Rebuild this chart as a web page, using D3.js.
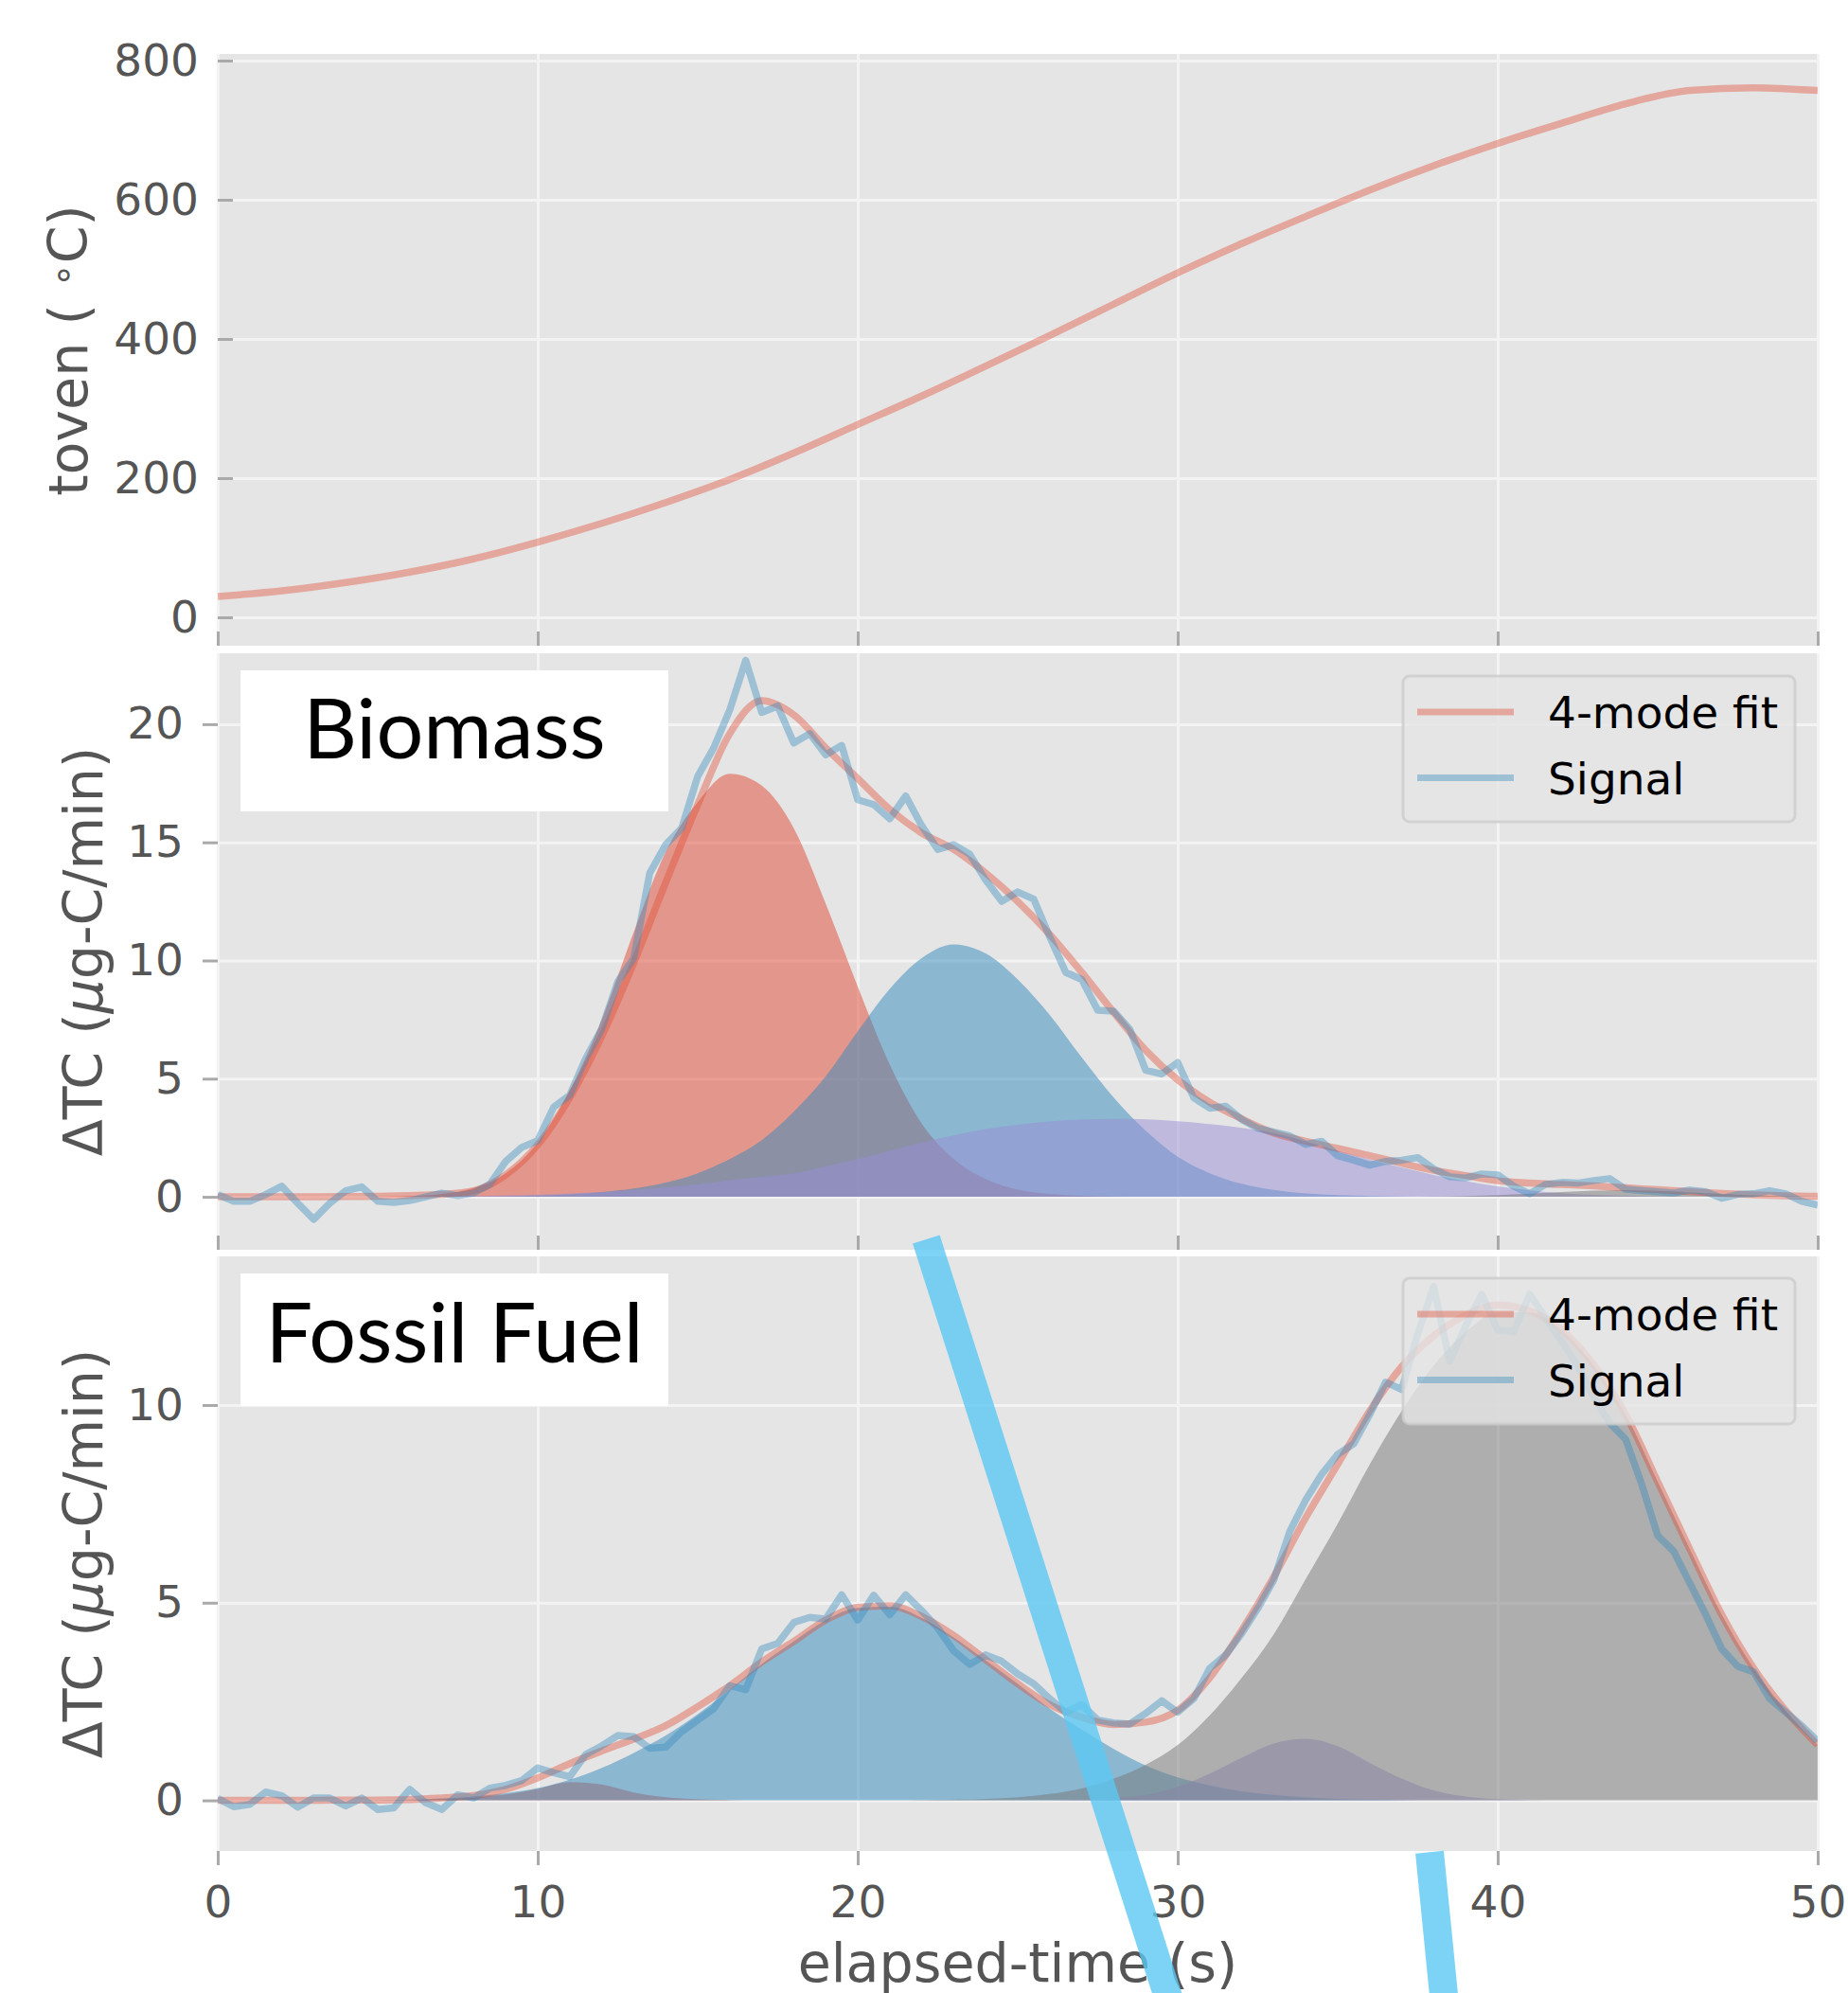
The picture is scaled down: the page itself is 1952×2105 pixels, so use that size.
<!DOCTYPE html>
<html>
<head>
  <meta charset="utf-8">
  <script src="https://d3js.org/d3.v7.min.js"></script>
  <style>
    body { margin: 0; background: #fff; }
    svg { display: block; }
  </style>
</head>
<body>
<script>
  'use strict';

  // ---------- data ----------
  var xTicks = [0, 10, 20, 30, 40, 50];
  var tovenTicks = [0, 200, 400, 600, 800];
  var bioTicks = [0, 5, 10, 15, 20];
  var fossilTicks = [0, 5, 10];
  var legendLabels = ['4-mode fit', 'Signal'];
  var modeColors = ['#E24A33', '#348ABD', '#988ED5', '#777777'];

  // oven temperature (deg C)
  var tovenTime = [0, 2, 4, 6, 8, 10, 12, 14, 16, 18, 20, 22, 24, 26, 28, 30, 32, 34, 36, 38, 40, 42, 44, 46, 48, 50];
  var toven = [30, 38, 50, 65, 84, 108, 135, 165, 198, 236, 277, 318, 361, 405, 450, 495, 537, 576, 614, 649, 681, 710, 738, 757, 761, 757];

  // fitted curves are sampled every second, raw signal every half second
  var modeTime = d3.range(0, 51, 1);
  var sigTime = d3.range(0, 50.5, 0.5);

  // Biomass
  var bioSignal = [0.1, -0.19, -0.19, 0.1, 0.45, -0.27, -0.95, -0.27, 0.26, 0.42,
    -0.19, -0.24, -0.16, 0.0, 0.16, 0.05, 0.16, 0.53, 1.5, 2.09,
    2.38, 3.8, 4.3, 5.85, 7.1, 9.1, 10.1, 13.7, 14.9, 15.6,
    17.8, 19.0, 20.6, 22.7, 20.5, 20.77, 19.2, 19.6, 18.7, 19.1,
    16.8, 16.6, 16.0, 16.96, 15.7, 14.7, 14.9, 14.5, 13.4, 12.5,
    12.9, 12.6, 11.0, 9.5, 9.2, 7.9, 7.86, 7.1, 5.36, 5.2,
    5.68, 4.2, 3.75, 3.83, 3.27, 2.9, 2.74, 2.58, 2.22, 2.35,
    1.74, 1.55, 1.34, 1.5, 1.55, 1.66, 1.18, 0.85, 0.8, 0.97,
    0.93, 0.45, 0.13, 0.53, 0.61, 0.58, 0.69, 0.77, 0.32, 0.26,
    0.21, 0.16, 0.29, 0.21, -0.06, 0.1, 0.13, 0.26, 0.13, -0.19,
    -0.35];
  var bioFit = [0, 0, 0, 0, 0.01, 0.02, 0.05, 0.1, 0.26, 0.93,
    2.2, 4.2, 6.8, 9.9, 13.3, 16.6, 19.6, 21.0, 20.4, 19.0,
    17.7, 16.4, 15.4, 14.7, 13.7, 12.5, 11.1, 9.5, 7.8, 6.2,
    4.95, 4.0, 3.3, 2.7, 2.35, 2.05, 1.74, 1.42, 1.12, 0.9,
    0.68, 0.58, 0.52, 0.46, 0.38, 0.3, 0.22, 0.14, 0.08, 0.04, 0.02];
  var bioMode1 = [0, 0, 0, 0, 0, 0.01, 0.03, 0.12, 0.37, 1.0,
    2.3, 4.5, 7.5, 11.2, 14.6, 16.7, 17.9, 17.4, 15.6, 12.4,
    8.9, 5.6, 3.1, 1.6, 0.75, 0.3, 0.12, 0.04, 0.01, 0,
    0, 0, 0, 0, 0, 0, 0, 0, 0, 0,
    0, 0, 0, 0, 0, 0, 0, 0, 0, 0, 0];
  var bioMode2 = [0, 0, 0, 0, 0, 0, 0, 0, 0, 0.02,
    0.05, 0.1, 0.2, 0.35, 0.6, 1.0, 1.6, 2.4, 3.6, 5.1,
    7.0, 8.8, 10.1, 10.68, 10.3, 9.2, 7.7, 5.9, 4.2, 2.8,
    1.7, 1.0, 0.55, 0.29, 0.14, 0.07, 0.03, 0.01, 0, 0,
    0, 0, 0, 0, 0, 0, 0, 0, 0, 0, 0];
  var bioMode3 = [0, 0, 0, 0, 0, 0, 0.01, 0.02, 0.04, 0.06,
    0.09, 0.14, 0.2, 0.28, 0.4, 0.53, 0.7, 0.85, 1.0, 1.3,
    1.6, 1.95, 2.3, 2.6, 2.87, 3.05, 3.19, 3.27, 3.3, 3.28,
    3.2, 3.08, 2.92, 2.7, 2.35, 1.95, 1.58, 1.25, 0.93, 0.66,
    0.44, 0.27, 0.15, 0.08, 0.04, 0.02, 0.01, 0, 0, 0, 0];
  var bioMode4 = [0, 0, 0, 0, 0, 0, 0, 0, 0, 0,
    0, 0, 0, 0, 0, 0, 0, 0, 0, 0,
    0, 0, 0, 0, 0, 0, 0, 0, 0, 0,
    0, 0, 0, 0, 0, 0, 0, 0, 0.01, 0.03,
    0.07, 0.13, 0.2, 0.26, 0.28, 0.25, 0.19, 0.12, 0.06, 0.03, 0.01];

  // Fossil Fuel
  var ffSignal = [0.05, -0.16, -0.1, 0.21, 0.12, -0.17, 0.06, 0.06, -0.14, 0.06,
    -0.23, -0.19, 0.28, -0.06, -0.23, 0.14, 0.06, 0.31, 0.38, 0.5,
    0.82, 0.7, 0.6, 1.16, 1.38, 1.64, 1.61, 1.32, 1.35, 1.74,
    2.03, 2.32, 2.9, 2.8, 3.83, 3.97, 4.5, 4.63, 4.59, 5.2,
    4.56, 5.19, 4.7, 5.2, 4.8, 4.36, 3.78, 3.44, 3.68, 3.52,
    3.2, 2.95, 2.57, 2.23, 2.42, 2.03, 1.96, 1.93, 2.2, 2.52,
    2.23, 2.57, 3.34, 3.68, 4.22, 4.85, 5.57, 6.8, 7.6, 8.25,
    8.75, 9.02, 9.76, 10.58, 10.39, 11.8, 13.0, 11.1, 12.0, 12.8,
    11.9, 11.85, 12.8, 12.2, 11.6, 11.0, 10.2, 9.55, 9.13, 8.0,
    6.7, 6.3, 5.5, 4.7, 3.83, 3.39, 3.25, 2.57, 2.23, 1.89,
    1.5];
  var ffFit = [0, 0, 0, 0, 0.01, 0.01, 0.02, 0.06, 0.12, 0.28,
    0.57, 0.93, 1.25, 1.55, 1.89, 2.37, 2.9, 3.5, 4.02, 4.56,
    4.88, 4.92, 4.65, 4.17, 3.56, 2.95, 2.42, 2.1, 1.92, 1.98,
    2.28, 3.1, 4.3, 5.65, 7.15, 8.5, 9.85, 10.97, 11.75, 12.28,
    12.53, 12.38, 11.9, 11.02, 9.76, 8.06, 6.36, 4.7, 3.34, 2.27, 1.4];
  var ffMode1 = [0, 0, 0, 0, 0, 0, 0.01, 0.03, 0.07, 0.15,
    0.29, 0.46, 0.4, 0.2, 0.08, 0.03, 0.01, 0, 0, 0,
    0, 0, 0, 0, 0, 0, 0, 0, 0, 0,
    0, 0, 0, 0, 0, 0, 0, 0, 0, 0,
    0, 0, 0, 0, 0, 0, 0, 0, 0, 0, 0];
  var ffMode2 = [0, 0, 0, 0, 0, 0.01, 0.02, 0.05, 0.1, 0.18,
    0.31, 0.52, 0.82, 1.2, 1.64, 2.18, 2.8, 3.45, 4.02, 4.56,
    4.87, 4.9, 4.62, 4.12, 3.54, 2.95, 2.32, 1.79, 1.3, 0.88,
    0.58, 0.38, 0.23, 0.14, 0.08, 0.04, 0.02, 0.01, 0, 0,
    0, 0, 0, 0, 0, 0, 0, 0, 0, 0, 0];
  var ffMode3 = [0, 0, 0, 0, 0, 0, 0, 0, 0, 0,
    0, 0, 0, 0, 0, 0, 0, 0, 0, 0,
    0, 0, 0, 0, 0, 0, 0, 0.02, 0.05, 0.14,
    0.34, 0.68, 1.08, 1.44, 1.56, 1.37, 0.95, 0.55, 0.25, 0.1,
    0.03, 0.01, 0, 0, 0, 0, 0, 0, 0, 0, 0];
  var ffMode4 = [0, 0, 0, 0, 0, 0, 0, 0, 0, 0,
    0, 0, 0, 0, 0, 0, 0, 0, 0, 0,
    0, 0, 0.01, 0.02, 0.04, 0.08, 0.16, 0.3, 0.55, 0.9,
    1.4, 2.15, 3.1, 4.2, 5.6, 7.0, 8.5, 9.85, 11.0, 11.85,
    12.35, 12.35, 11.9, 11.0, 9.76, 8.06, 6.36, 4.7, 3.34, 2.27, 1.4];

  // hand-drawn callout strokes, in the bottom panel's data units
  var callouts = [
    {t1: 22.14, v1: 14.19, t2: 29.83, v2: -5.3},
    {t1: 37.87, v1: -1.31, t2: 38.36, v2: -5.3}
  ];

  // ---------- layout ----------
  var W = 1952, H = 2105;
  var plotLeft = 230, plotRight = 1920;
  var tickFont = 47, labelFont = 57;

  var svg = d3.select('body').append('svg')
    .attr('width', W)
    .attr('height', H);

  var x = d3.scaleLinear().domain([0, 50]).range([plotLeft, plotRight]);

  function makePanel(id, top, bottom, domain, yTicks, yTickIn, xTickOut) {
    var y = d3.scaleLinear().domain(domain).range([bottom, top]);
    var g = svg.append('g').attr('class', 'panel-' + id);

    g.append('rect')
      .attr('x', plotLeft).attr('y', top)
      .attr('width', plotRight - plotLeft).attr('height', bottom - top)
      .attr('fill', '#e5e5e5');

    // white grid
    var gx = g.append('g')
      .attr('transform', 'translate(0,' + bottom + ')')
      .call(d3.axisBottom(x).tickValues(xTicks).tickSize(-(bottom - top)).tickFormat(''));
    var gy = g.append('g')
      .attr('transform', 'translate(' + plotLeft + ',0)')
      .call(d3.axisLeft(y).tickValues(yTicks).tickSize(-(plotRight - plotLeft)).tickFormat(''));
    [gx, gy].forEach(function (a) {
      a.select('.domain').remove();
      a.selectAll('line').attr('stroke', '#f3f3f3').attr('stroke-width', 3);
    });

    svg.append('clipPath').attr('id', 'clip-' + id)
      .append('rect')
      .attr('x', plotLeft).attr('y', top)
      .attr('width', plotRight - plotLeft).attr('height', bottom - top);

    var data = g.append('g').attr('clip-path', 'url(#clip-' + id + ')');

    return {y: y, g: g, data: data, top: top, bottom: bottom, yTicks: yTicks, yTickIn: yTickIn, xTickOut: xTickOut};
  }

  function drawAxes(p, showXLabels) {
    var ya = d3.axisLeft(p.y).tickValues(p.yTicks)
      .tickSizeInner(p.yTickIn ? -16 : 16).tickSizeOuter(0).tickPadding(20);
    var gy = p.g.append('g')
      .attr('transform', 'translate(' + plotLeft + ',0)')
      .call(ya);
    var xa = d3.axisBottom(x).tickValues(xTicks)
      .tickSizeInner(p.xTickOut ? 15 : -15).tickSizeOuter(0).tickPadding(22);
    if (!showXLabels) xa.tickFormat('');
    var gx = p.g.append('g')
      .attr('transform', 'translate(0,' + p.bottom + ')')
      .call(xa);
    [gx, gy].forEach(function (a) {
      a.select('.domain').remove();
      a.attr('font-size', tickFont).attr('font-family', "'DejaVu Sans', sans-serif");
      a.selectAll('line').attr('stroke', '#aaaaaa').attr('stroke-width', 3);
      a.selectAll('text').attr('fill', '#555555');
    });
  }

  function drawModes(p, modes) {
    modes.forEach(function (vals, i) {
      var area = d3.area()
        .x(function (d, k) { return x(modeTime[k]); })
        .y0(p.y(0))
        .y1(function (d) { return p.y(d); })
        .curve(d3.curveMonotoneX);
      p.data.append('path')
        .datum(vals)
        .attr('d', area)
        .attr('fill', modeColors[i])
        .attr('fill-opacity', 0.5);
    });
  }

  function drawLine(p, times, vals, color, curve) {
    var line = d3.line()
      .x(function (d, k) { return x(times[k]); })
      .y(function (d) { return p.y(d); })
      .curve(curve || d3.curveLinear);
    p.data.append('path')
      .datum(vals)
      .attr('d', line)
      .attr('fill', 'none')
      .attr('stroke', color)
      .attr('stroke-opacity', 0.4)
      .attr('stroke-width', 7.5)
      .attr('stroke-linejoin', 'round');
  }

  function drawLegend(p, top) {
    var lg = p.g.append('g');
    lg.append('rect')
      .attr('x', 1482).attr('y', top)
      .attr('width', 414).attr('height', 154)
      .attr('rx', 7)
      .attr('fill', '#e5e5e5').attr('fill-opacity', 0.8)
      .attr('stroke', '#cccccc').attr('stroke-opacity', 0.8).attr('stroke-width', 3);
    var colors = ['#E24A33', '#348ABD'];
    legendLabels.forEach(function (lab, i) {
      var ly = top + 38 + i * 69.5;
      lg.append('line')
        .attr('x1', 1497).attr('x2', 1599)
        .attr('y1', ly).attr('y2', ly)
        .attr('stroke', colors[i]).attr('stroke-opacity', 0.4).attr('stroke-width', 7);
      lg.append('text')
        .attr('x', 1635).attr('y', ly + 17)
        .attr('font-family', "'DejaVu Sans', sans-serif")
        .attr('font-size', tickFont)
        .attr('fill', '#000')
        .text(lab);
    });
  }

  function drawTag(p, bx, by, bw, bh, ty, label) {
    p.g.append('rect')
      .attr('x', bx).attr('y', by).attr('width', bw).attr('height', bh)
      .attr('fill', '#ffffff');
    p.g.append('text')
      .attr('x', bx + bw / 2).attr('y', ty)
      .attr('text-anchor', 'middle')
      .attr('font-family', "Lato, 'Open Sans', sans-serif")
      .attr('font-size', 88)
      .attr('fill', '#000')
      .text(label);
  }

  function yLabel(cx, cy, build) {
    var t = svg.append('text')
      .attr('transform', 'translate(' + cx + ',' + cy + ') rotate(-90)')
      .attr('text-anchor', 'middle')
      .attr('font-family', "'DejaVu Sans', sans-serif")
      .attr('font-size', labelFont)
      .attr('fill', '#555555');
    build(t);
  }

  // ---------- top: oven temperature ----------
  var pTop = makePanel('top', 57, 682, [-40.8, 809.5], tovenTicks, true, false);
  drawLine(pTop, tovenTime, toven, '#E24A33', d3.curveMonotoneX);
  drawAxes(pTop, false);

  // ---------- middle: biomass ----------
  var pBio = makePanel('bio', 690, 1320, [-2.24, 23.0], bioTicks, false, false);
  drawModes(pBio, [bioMode1, bioMode2, bioMode3, bioMode4]);
  drawLine(pBio, modeTime, bioFit, '#E24A33', d3.curveMonotoneX);
  drawLine(pBio, sigTime, bioSignal, '#348ABD');
  drawAxes(pBio, false);
  drawLegend(pBio, 714);
  drawTag(pBio, 254, 708, 452, 149, 801, 'Biomass');

  // ---------- bottom: fossil fuel ----------
  var pFos = makePanel('fos', 1327, 1955, [-1.28, 13.76], fossilTicks, false, true);
  drawModes(pFos, [ffMode1, ffMode2, ffMode3, ffMode4]);
  drawLine(pFos, modeTime, ffFit, '#E24A33', d3.curveMonotoneX);
  drawLine(pFos, sigTime, ffSignal, '#348ABD');
  drawAxes(pFos, true);
  drawLegend(pFos, 1350);
  drawTag(pFos, 254, 1345, 452, 140, 1439, 'Fossil Fuel');

  // ---------- axis titles ----------
  yLabel(92, 370, function (t) {
    t.append('tspan').text('toven ( ');
    t.append('tspan').attr('font-size', 40).attr('dy', -12).text('∘');
    t.append('tspan').attr('dy', 12).text('C)');
  });
  [[108, 1005], [108, 1641]].forEach(function (c) {
    yLabel(c[0], c[1], function (t) {
      t.append('tspan').text('ΔTC (');
      t.append('tspan').attr('font-style', 'italic').text('μ');
      t.append('tspan').text('g-C/min)');
    });
  });
  svg.append('text')
    .attr('x', (plotLeft + plotRight) / 2).attr('y', 2093)
    .attr('text-anchor', 'middle')
    .attr('font-family', "'DejaVu Sans', sans-serif")
    .attr('font-size', labelFont)
    .attr('fill', '#555555')
    .text('elapsed-time (s)');

  // ---------- callout strokes on top ----------
  callouts.forEach(function (c) {
    svg.append('line')
      .attr('x1', x(c.t1)).attr('y1', pFos.y(c.v1))
      .attr('x2', x(c.t2)).attr('y2', pFos.y(c.v2))
      .attr('stroke', '#5cc8f2')
      .attr('stroke-opacity', 0.8)
      .attr('stroke-width', 30);
  });
</script>
</body>
</html>
